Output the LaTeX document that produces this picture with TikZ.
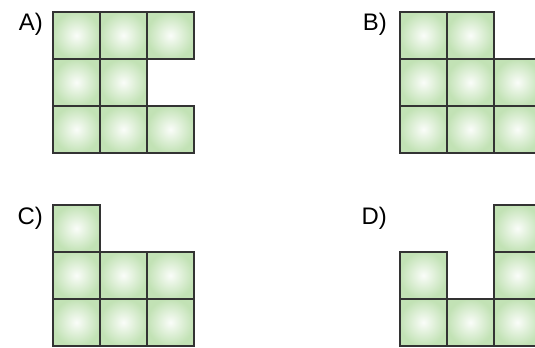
\documentclass[tikz,border=0pt]{standalone}
\usepackage{fontspec}
\setmainfont{Liberation Sans}
\definecolor{tilegreen}{RGB}{194,226,181}
\begin{document}
\begin{tikzpicture}[x=1bp,y=-1bp,
  tile/.style={draw=black!80,line width=1.8bp,inner sep=0pt,minimum size=47bp,
    anchor=north west,inner color=white!92!tilegreen,outer color=tilegreen},
  lbl/.style={anchor=base east,inner sep=0pt,font=\fontsize{24}{28}\selectfont}]
\useasboundingbox (0,0) rectangle (535,347);
\clip (0,0) rectangle (535,347);
\path
  (52,11) coordinate (A)
  (399,11) coordinate (B)
  (52,204) coordinate (C)
  (399,204) coordinate (D);
% labels
\node[lbl] (lA) at (43,30) {A)};
\node[lbl] (lB) at (387,30) {B)};
\node[lbl] (lC) at (43,224) {C)};
\node[lbl] (lD) at (387,224) {D)};
% tiles, column/row
\foreach \c/\r in {0/0,1/0,2/0,0/1,1/1,0/2,1/2,2/2}
  \node[tile] (A\c\r) at ([shift={(47*\c,47*\r)}]A) {};
\foreach \c/\r in {0/0,1/0,0/1,1/1,2/1,0/2,1/2,2/2}
  \node[tile] (B\c\r) at ([shift={(47*\c,47*\r)}]B) {};
\foreach \c/\r in {0/0,0/1,1/1,2/1,0/2,1/2,2/2}
  \node[tile] (C\c\r) at ([shift={(47*\c,47*\r)}]C) {};
\foreach \c/\r in {2/0,0/1,2/1,0/2,1/2,2/2}
  \node[tile] (D\c\r) at ([shift={(47*\c,47*\r)}]D) {};
\end{tikzpicture}
\end{document}
